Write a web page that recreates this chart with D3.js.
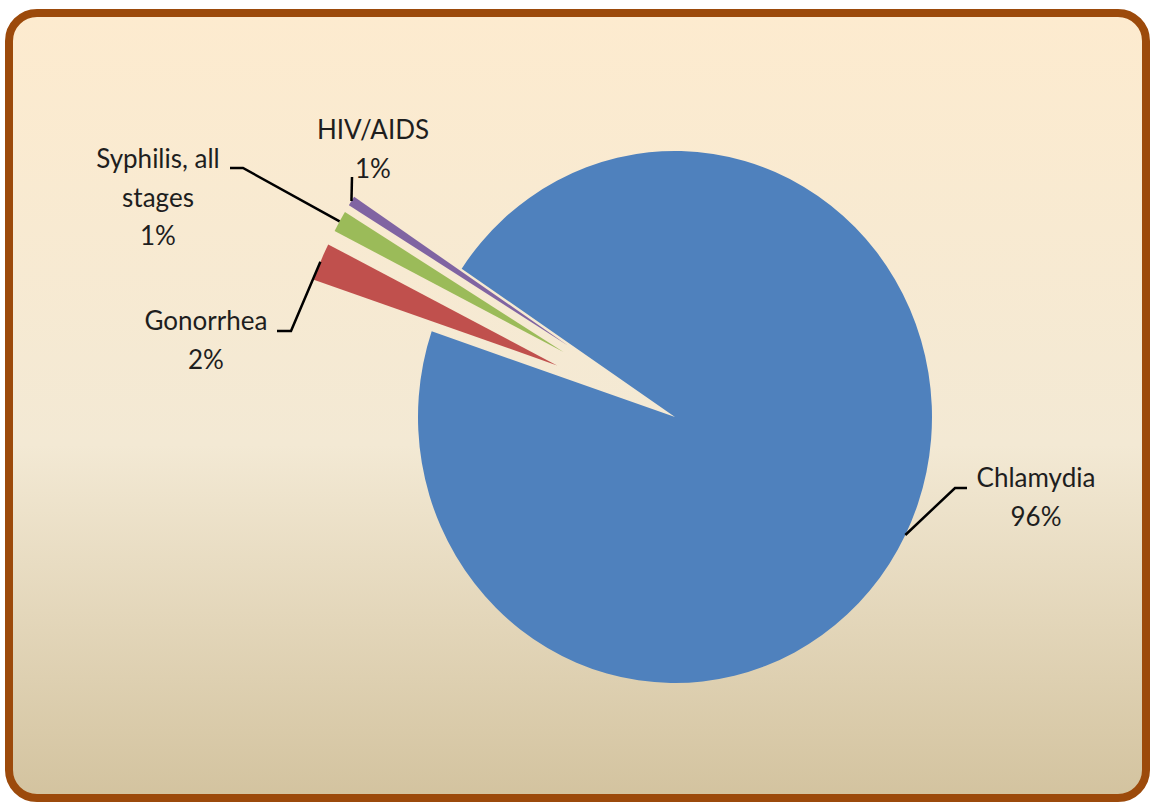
<!DOCTYPE html>
<html>
<head>
<meta charset="utf-8">
<script src="https://cdn.jsdelivr.net/npm/d3@7/dist/d3.min.js"></script>
<style>
  html, body { margin: 0; padding: 0; background: #ffffff; }
  svg { display: block; }
</style>
</head>
<body>
<script>
// ---- data ----
const categories = ["Chlamydia", "Gonorrhea", "Syphilis, all stages", "HIV/AIDS"];
const values = [95.8, 2.3, 1.3, 0.6];
const colors = ["#4f81bd", "#c0504d", "#9bbb59", "#8064a2"];
const labelLines = [["Chlamydia"], ["Gonorrhea"], ["Syphilis, all", "stages"], ["HIV/AIDS"]];
const exploded = [false, true, true, true];

// ---- layout ----
const W = 1151, H = 804;
const cx = 675, cy = 417, R = 257, yScale = 1.035;
const explodeDist = 128;
const startDeg = 303.9;
// label anchors: [text center x, first baseline y, elbow x, horizontal line end x, line y]
const labelLayout = [
  { x: 1036, y: 487, elbowX: 955, endX: 967, lineY: 488 },
  { x: 206, y: 330, elbowX: 291, endX: 277, lineY: 331 },
  { x: 158, y: 168, elbowX: 243, endX: 230, lineY: 168 },
  { x: 373, y: 139, elbowX: 352, endX: 352, lineY: 177 }
];
const lineH = 38.5;

const svg = d3.select("body").append("svg").attr("width", W).attr("height", H);
const defs = svg.append("defs");
const grad = defs.append("linearGradient").attr("id", "bg").attr("x1", 0).attr("y1", 0).attr("x2", 0).attr("y2", 1);
grad.append("stop").attr("offset", "0%").attr("stop-color", "#fdebcf");
grad.append("stop").attr("offset", "55%").attr("stop-color", "#f3e9d4");
grad.append("stop").attr("offset", "100%").attr("stop-color", "#d3c39f");

svg.append("rect")
  .attr("x", 9).attr("y", 13).attr("width", 1137).attr("height", 785)
  .attr("rx", 28).attr("ry", 28)
  .attr("fill", "url(#bg)")
  .attr("stroke", "#9c4a0b").attr("stroke-width", 8);

const a0 = startDeg * Math.PI / 180;
const pie = d3.pie().sort(null).value(d => d).startAngle(a0).endAngle(a0 + 2 * Math.PI);
const arcs = pie(values);
const arc = d3.arc().innerRadius(0).outerRadius(R);

function offsetFor(d, i) {
  if (!exploded[i]) return [0, 0];
  const mid = (d.startAngle + d.endAngle) / 2;
  return [explodeDist * Math.sin(mid), -explodeDist * Math.cos(mid)];
}

const g = svg.append("g").attr("transform", `translate(${cx},${cy}) scale(1,${yScale})`);
g.selectAll("path.slice").data(arcs).join("path")
  .attr("class", "slice")
  .attr("d", arc)
  .attr("fill", (d, i) => colors[i])
  .attr("transform", (d, i) => { const o = offsetFor(d, i); return `translate(${o[0]},${o[1]})`; });

// leader lines
const fmt = v => Math.round(v) + "%";
arcs.forEach((d, i) => {
  const mid = (d.startAngle + d.endAngle) / 2;
  const o = offsetFor(d, i);
  const px = cx + o[0] + R * Math.sin(mid);
  const py = cy + (o[1] - R * Math.cos(mid)) * yScale;
  const L = labelLayout[i];
  const pts = [[L.endX, L.lineY], [L.elbowX, L.lineY], [px, py]];
  svg.append("path")
    .attr("d", d3.line()(pts))
    .attr("fill", "none")
    .attr("stroke", "#000")
    .attr("stroke-width", 2.5);
});

// labels
arcs.forEach((d, i) => {
  const L = labelLayout[i];
  const lines = labelLines[i].concat([fmt(values[i])]);
  const t = svg.append("text")
    .attr("text-anchor", "middle")
    .attr("font-family", "Lato, 'Open Sans', sans-serif")
    .attr("font-size", 26)
    .attr("fill", "#1e1e1e");
  lines.forEach((s, k) => {
    t.append("tspan").attr("x", L.x).attr("y", L.y + k * lineH).text(s);
  });
});
</script>
</body>
</html>
